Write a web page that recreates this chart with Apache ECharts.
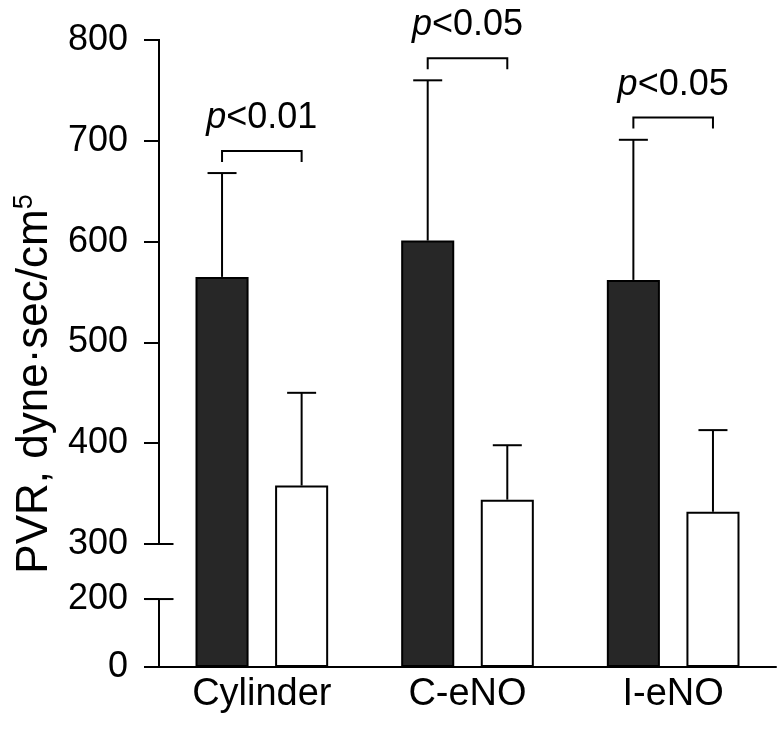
<!DOCTYPE html>
<html>
<head>
<meta charset="utf-8">
<script src="https://cdn.jsdelivr.net/npm/echarts@6/dist/echarts.min.js"></script>
<style>
html,body{margin:0;padding:0;background:#fff;}
#chart{width:783px;height:736px;}
</style>
</head>
<body>
<div id="chart"></div>
<script>
// ---- data ----
var categories = ['Cylinder', 'C-eNO', 'I-eNO'];
var baselineMean = [565, 601, 562];   // dark bars
var baselineUpper = [668, 760, 701];  // mean + SD (dark)
var treatedMean = [358, 344, 332];    // white bars
var treatedUpper = [450, 398, 413];   // mean + SD (white)
var bracketLevel = [690, 782, 723];
var pLabels = ['<0.01', '<0.05', '<0.05'];
var yTickValues = [0, 200, 300, 400, 500, 600, 700, 800];
var yTickLabels = ['0', '200', '300', '400', '500', '600', '700', '800'];

// ---- broken-axis mapping (data value -> display unit) ----
var D0 = 178, D200 = 245.4;
function disp(v) {
  var d;
  if (v >= 300) d = v;
  else if (v >= 200) d = D200 + (v - 200) * (300 - D200) / 100;
  else d = D0 + v * (D200 - D0) / 200;
  return d - D0;
}
var FONT = 'Liberation Sans, Arial, Helvetica, sans-serif';
var FS = 36;
var BAR_PCT = 0.258;

var chart = echarts.init(document.getElementById('chart'));

function barCenterOffset(api) {
  var bandW = api.size([1, 0])[0];
  var bw = bandW * BAR_PCT;
  return 0.75 * bw;
}

function errData(means, uppers) {
  return means.map(function (m, i) { return [i, disp(m), disp(uppers[i])]; });
}

function errRender(sign) {
  return function (params, api) {
    var ci = api.value(0);
    var c = api.coord([ci, api.value(1)]);
    var t = api.coord([ci, api.value(2)]);
    var x = c[0] + sign * barCenterOffset(api);
    var cap = 14.5;
    return {
      type: 'group',
      children: [
        { type: 'line', shape: { x1: x, y1: c[1], x2: x, y2: t[1] }, style: { stroke: '#000', lineWidth: 2 } },
        { type: 'line', shape: { x1: x - cap, y1: t[1], x2: x + cap, y2: t[1] }, style: { stroke: '#000', lineWidth: 2 } }
      ]
    };
  };
}

var option = {
  animation: false,
  backgroundColor: '#fff',
  grid: { left: 159, right: 7, top: 40, bottom: 69, containLabel: false },
  xAxis: {
    type: 'category',
    data: categories,
    boundaryGap: true,
    axisLine: { lineStyle: { color: '#000', width: 2 } },
    axisTick: { alignWithLabel: true, length: 15, lineStyle: { color: '#000', width: 2 } },
    axisLabel: { color: '#000', fontSize: 38, fontFamily: FONT, margin: 9 },
    splitLine: { show: false }
  },
  yAxis: {
    type: 'value',
    min: 0,
    max: disp(800),
    axisLine: { show: false },
    axisTick: {
      show: true, inside: false, length: 15,
      customValues: yTickValues.map(disp),
      lineStyle: { color: '#000', width: 2 }
    },
    axisLabel: {
      color: '#000', fontSize: FS, fontFamily: FONT, margin: 31,
      customValues: yTickValues.map(disp),
      formatter: function (val) {
        for (var i = 0; i < yTickValues.length; i++) {
          if (Math.abs(disp(yTickValues[i]) - val) < 0.01) return yTickLabels[i];
        }
        return '';
      }
    },
    splitLine: { show: false }
  },
  graphic: [{
    type: 'text',
    x: 35, y: 384,
    rotation: Math.PI / 2,
    style: {
      text: '{b|PVR, dyne·sec/cm}{s|5}',
      align: 'center', verticalAlign: 'middle',
      fill: '#000',
      rich: {
        b: { fontSize: 44, fontFamily: FONT, fill: '#000', lineHeight: 48 },
        s: { fontSize: 27, fontFamily: FONT, fill: '#000', verticalAlign: 'top', lineHeight: 48, padding: [0, 0, 20, 0] }
      }
    }
  }],
  series: [
    {
      name: 'baseline', type: 'bar',
      data: baselineMean.map(disp),
      barWidth: (BAR_PCT * 100) + '%', barGap: '50%',
      itemStyle: { color: '#272727', borderColor: '#000', borderWidth: 2 },
      z: 2
    },
    {
      name: 'treated', type: 'bar',
      data: treatedMean.map(disp),
      barWidth: (BAR_PCT * 100) + '%', barGap: '50%',
      itemStyle: { color: '#fff', borderColor: '#000', borderWidth: 2 },
      z: 2
    },
    {
      type: 'custom', name: 'errBaseline', z: 3,
      data: errData(baselineMean, baselineUpper),
      renderItem: errRender(-1)
    },
    {
      type: 'custom', name: 'errTreated', z: 3,
      data: errData(treatedMean, treatedUpper),
      renderItem: errRender(1)
    },
    {
      type: 'custom', name: 'brackets', z: 3,
      data: bracketLevel.map(function (b, i) { return [i, disp(b), pLabels[i]]; }),
      renderItem: function (params, api) {
        var ci = api.value(0);
        var p = api.coord([ci, api.value(1)]);
        var off = barCenterOffset(api);
        var x1 = p[0] - off, x2 = p[0] + off, y = p[1];
        var leg = 11;
        return {
          type: 'group',
          children: [
            { type: 'polyline', shape: { points: [[x1, y + leg], [x1, y], [x2, y], [x2, y + leg]] },
              style: { stroke: '#000', lineWidth: 2, fill: null } },
            { type: 'text', style: {
                x: p[0], y: y - 15,
                text: '{i|p}{n|' + pLabels[params.dataIndex] + '}',
                align: 'center', verticalAlign: 'bottom',
                rich: {
                  i: { fontSize: FS, fontFamily: FONT, fontStyle: 'italic', fill: '#000' },
                  n: { fontSize: FS, fontFamily: FONT, fill: '#000' }
                }
              } }
          ]
        };
      }
    },
    {
      type: 'custom', name: 'brokenAxis', z: 4,
      data: [[0, 0]],
      renderItem: function (params, api) {
        var x = params.coordSys.x;
        var y0 = api.coord([0, disp(0)])[1];
        var y200 = api.coord([0, disp(200)])[1];
        var y300 = api.coord([0, disp(300)])[1];
        var y800 = api.coord([0, disp(800)])[1];
        var cap = 14.5;
        var st = { stroke: '#000', lineWidth: 2 };
        return {
          type: 'group',
          children: [
            { type: 'line', shape: { x1: x, y1: y0 + 1, x2: x, y2: y200 }, style: st },
            { type: 'line', shape: { x1: x - cap, y1: y200, x2: x + cap, y2: y200 }, style: st },
            { type: 'line', shape: { x1: x, y1: y300, x2: x, y2: y800 - 1 }, style: st },
            { type: 'line', shape: { x1: x - cap, y1: y300, x2: x + cap, y2: y300 }, style: st }
          ]
        };
      }
    }
  ]
};
chart.setOption(option);
</script>
</body>
</html>
